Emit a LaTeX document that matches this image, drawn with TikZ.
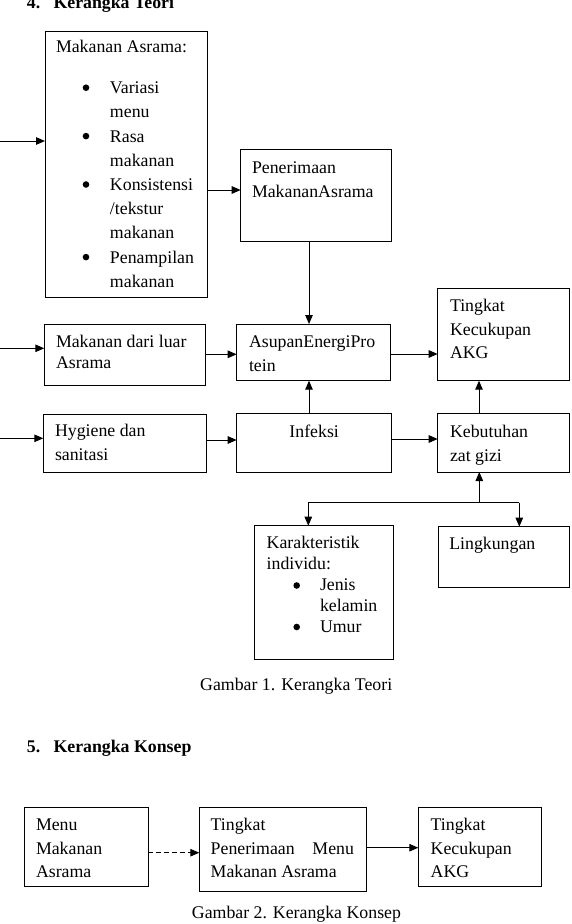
\documentclass[tikz,border=0pt]{standalone}
\usepackage{fontspec}
\setmainfont{Liberation Serif}
\usetikzlibrary{arrows.meta}
\newcommand\mkbox[6]{\node[boxst] (#1) at (#2,#3) {\parbox[c][#5pt][t]{#4pt}{#6}};}
\newcommand\boxstart[2]{\setlength\leftskip{#1pt}\rule{0pt}{#2pt}}
\newcommand\ind[1]{\hspace*{#1pt}}
\tikzset{
  boxst/.style={draw, line width=1pt, anchor=north west, inner sep=0pt, outer sep=0pt,
    font=\fontsize{17.8pt}{24.2pt}\selectfont},
  txt/.style={anchor=base west, inner sep=0pt, font=\fontsize{17.8pt}{24.2pt}\selectfont},
  hd/.style={txt, font=\fontsize{17.8pt}{24.2pt}\selectfont\bfseries},
  arr/.style={line width=1pt, -{Triangle[length=9pt,width=7.5pt]}},
  ln/.style={line width=1pt},
  bul/.style={fill=black}
}
\begin{document}
\begin{tikzpicture}[x=1pt, y=-1pt]
\useasboundingbox (0,0) rectangle (571,924);
\fill[white] (0,0) rectangle (571,924);

% headings and captions
\node[hd] (h4n) at (26.7,8.5) {4.};
\node[hd] (h4t) at (53.3,8.5) {Kerangka Teori};
\node[txt] (cap1) at (200,690) {Gambar 1. Kerangka Teori};
\node[hd] (h5n) at (26.7,752.7) {5.};
\node[hd] (h5t) at (53.3,752.7) {Kerangka Konsep};
\node[txt] (cap2) at (191.7,918.3) {Gambar 2. Kerangka Konsep};

% boxes of figure 1
\mkbox{ma}{45}{31}{162}{266}{\boxstart{11}{21.7}Makanan Asrama:\\[16.8pt]
\ind{54}Variasi\\ \ind{54}menu\\ \ind{54}Rasa\\ \ind{54}makanan\\
\ind{54}Konsistensi\\ \ind{54}/tekstur\\ \ind{54}makanan\\
\ind{54}Penampilan\\ \ind{54}makanan}
\mkbox{pen}{240.7}{149.3}{151}{92.4}{\boxstart{11.3}{23.7}Penerimaan\\MakananAsrama}
\mkbox{asu}{236.7}{324}{153.3}{56.7}{\boxstart{12.3}{23.7}AsupanEnergiPro\\tein}
\mkbox{tkt}{437.7}{288.7}{131.3}{92}{\setlength\baselineskip{23.6pt}\boxstart{12.3}{23}Tingkat\\Kecukupan\\AKG}
\mkbox{mdl}{44.3}{324.3}{160.7}{61}{\setlength\baselineskip{21pt}\boxstart{11.7}{23.4}Makanan dari luar\\Asrama}
\mkbox{hyg}{43.3}{414}{163.4}{58.7}{\setlength\baselineskip{23.6pt}\boxstart{11.7}{22.7}Hygiene dan\\sanitasi}
\mkbox{inf}{236.7}{413}{155}{59}{\centering\rule{0pt}{24.7pt}Infeksi}
\mkbox{keb}{437.7}{413}{131.3}{59}{\setlength\baselineskip{23.3pt}\boxstart{12.3}{24.7}Kebutuhan\\zat gizi}
\mkbox{kar}{254.7}{525.7}{138.6}{133.3}{\setlength\baselineskip{21pt}\boxstart{12}{23}Karakteristik\\individu:\\
\ind{53.3}Jenis\\ \ind{53.3}kelamin\\ \ind{53.3}Umur}
\mkbox{lin}{438.3}{526.7}{131}{61}{\boxstart{11}{22.6}Lingkungan}

% bullets
\fill[bul] (86,87.7) circle (3.3);
\fill[bul] (86,136.1) circle (3.3);
\fill[bul] (86,184.5) circle (3.3);
\fill[bul] (86,257.1) circle (3.3);
\fill[bul] (296.7,585.5) circle (3.3);
\fill[bul] (296.7,627) circle (3.3);

% connectors of figure 1
\coordinate (i1) at (0,141);
\coordinate (r1) at (0,190);
\coordinate (v1) at (309,0);
\coordinate (i2) at (0,348.3);
\coordinate (r2) at (0,354.3);
\coordinate (r3) at (0,354);
\coordinate (i3) at (0,438.3);
\coordinate (r4) at (0,440);
\coordinate (r5) at (0,439);
\coordinate (v2) at (479,0);
\coordinate (j) at (479.3,502.7);
\coordinate (jl) at (308.3,502.7);
\coordinate (jr) at (519.3,502.7);
\draw[arr] (i1) -- (i1 -| ma.west);
\draw[arr] (r1 -| ma.east) -- (r1 -| pen.west);
\draw[arr] (v1 |- pen.south) -- (v1 |- asu.north);
\draw[arr] (v1 |- inf.north) -- (v1 |- asu.south);
\draw[arr] (i2) -- (i2 -| mdl.west);
\draw[arr] (r2 -| mdl.east) -- (r2 -| asu.west);
\draw[arr] (r3 -| asu.east) -- (r3 -| tkt.west);
\draw[arr] (i3) -- (i3 -| hyg.west);
\draw[arr] (r4 -| hyg.east) -- (r4 -| inf.west);
\draw[arr] (r5 -| inf.east) -- (r5 -| keb.west);
\draw[arr] (v2 |- keb.north) -- (v2 |- tkt.south);
\draw[arr] (j) -- (j |- keb.south);
\draw[ln] (jl) -- (jr);
\draw[arr] (jl) -- (jl |- kar.north);
\draw[arr] (jr) -- (jr |- lin.north);

% figure 2
\mkbox{menu}{24.3}{807.3}{124}{78.7}{\setlength\baselineskip{23.5pt}\boxstart{11.7}{23.4}Menu\\Makanan\\Asrama}
\mkbox{tpm}{199.3}{807.3}{167.4}{84.4}{\setlength\baselineskip{23.5pt}\boxstart{11.4}{23.4}Tingkat\\\hbox to 143.3pt{Penerimaan\hfill Menu}\\Makanan Asrama}
\mkbox{tka}{418.3}{807.3}{123.4}{78.7}{\setlength\baselineskip{23.5pt}\boxstart{12.4}{23.4}Tingkat\\Kecukupan\\AKG}
\coordinate (r6) at (0,852.7);
\coordinate (r7) at (0,847.7);
\draw[arr, dash pattern=on 4.5pt off 3.5pt] (r6 -| menu.east) -- (r6 -| tpm.west);
\draw[arr] (r7 -| tpm.east) -- (r7 -| tka.west);
\end{tikzpicture}
\end{document}
